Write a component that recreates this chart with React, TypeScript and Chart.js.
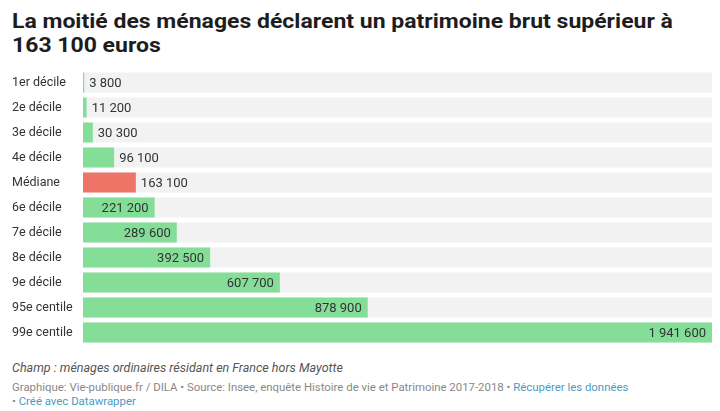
import React, { useEffect, useRef } from "react";
import { Chart, registerables } from "chart.js";

Chart.register(...registerables);

const categories = [
  "1er décile",
  "2e décile",
  "3e décile",
  "4e décile",
  "Médiane",
  "6e décile",
  "7e décile",
  "8e décile",
  "9e décile",
  "95e centile",
  "99e centile",
];
const values = [3800, 11200, 30300, 96100, 163100, 221200, 289600, 392500, 607700, 878900, 1941600];
const highlightIndex = 4;

const GREEN = "#85de98";
const RED = "#ef7468";
const BG = "#f2f2f2";
const FONT = "Roboto, 'Noto Sans', sans-serif";

function fmt(v: number): string {
  return String(v).replace(/\B(?=(\d{3})+(?!\d))/g, " ");
}

const valueLabels = {
  id: "valueLabels",
  afterDatasetsDraw(chart: any) {
    const ctx = chart.ctx;
    const meta = chart.getDatasetMeta(1);
    ctx.save();
    ctx.font = `13px ${FONT}`;
    ctx.textBaseline = "middle";
    meta.data.forEach((bar: any, i: number) => {
      const text = fmt(values[i]);
      const tw = ctx.measureText(text).width;
      const left = chart.chartArea.left;
      const w = bar.x - left;
      ctx.fillStyle = "#333333";
      if (w > tw + 14) {
        ctx.textAlign = "right";
        ctx.fillText(text, bar.x - 6, bar.y + 1);
      } else {
        ctx.textAlign = "left";
        ctx.fillText(text, bar.x + 5, bar.y + 1);
      }
    });
    ctx.restore();
  },
};

export default function App() {
  const ref = useRef<HTMLCanvasElement>(null);
  useEffect(() => {
    if (!ref.current) return;
    const max = Math.max(...values);
    const chart = new Chart(ref.current, {
      type: "bar",
      data: {
        labels: categories,
        datasets: [
          {
            data: categories.map(() => max),
            backgroundColor: BG,
            order: 2,
            grouped: false,
            barPercentage: 0.8,
            categoryPercentage: 1,
          } as any,
          {
            data: values,
            backgroundColor: values.map((_, i) => (i === highlightIndex ? RED : GREEN)),
            order: 1,
            grouped: false,
            barPercentage: 0.8,
            categoryPercentage: 1,
          } as any,
        ],
      },
      options: {
        indexAxis: "y",
        animation: false,
        responsive: false,
        maintainAspectRatio: false,
        layout: { padding: { top: 8, bottom: 8, left: 4, right: 0 } },
        plugins: { legend: { display: false }, tooltip: { enabled: false } },
        scales: {
          x: { display: false, min: 0, max: max },
          y: {
            grid: { display: false, drawTicks: false },
            border: { display: false },
            afterFit: (scale: any) => {
              scale.width = 71;
            },
            ticks: {
              crossAlign: "far",
              padding: 0,
              color: "#333333",
              font: { family: FONT, size: 12.5 },
            },
          },
        },
      },
      plugins: [valueLabels],
    });
    return () => chart.destroy();
  }, []);

  return (
    <div style={{ position: "absolute", left: 0, top: 0, width: 720, height: 411, fontFamily: FONT, background: "#fff" }}>
      <div
        style={{
          position: "absolute",
          left: 12,
          top: 9.5,
          width: 690,
          fontSize: 23,
          lineHeight: "27px",
          fontWeight: 700,
          color: "#1d1d1d",
          transform: "scaleY(0.88)",
          transformOrigin: "top left",
        }}
      >
        La moitié des ménages déclarent un patrimoine brut supérieur à 163 100 euros
      </div>
      <canvas ref={ref} width={704} height={291} style={{ position: "absolute", left: 8, top: 61.5, width: 704, height: 291 }} />
      <div
        style={{
          position: "absolute",
          left: 12,
          top: 361,
          fontSize: 12.5,
          lineHeight: "14px",
          fontStyle: "italic",
          color: "#555555",
        }}
      >
        Champ : ménages ordinaires résidant en France hors Mayotte
      </div>
      <div
        style={{
          position: "absolute",
          left: 12,
          top: 380,
          width: 660,
          fontSize: 11.4,
          lineHeight: "14px",
          color: "#888888",
        }}
      >
        Graphique: Vie-publique.fr / DILA • Source: Insee, enquête Histoire de vie et Patrimoine 2017-2018 •{" "}
        <span style={{ color: "#4a9bc4" }}>Récupérer les données</span>
        <br />• <span style={{ color: "#4a9bc4" }}>Créé avec Datawrapper</span>
      </div>
    </div>
  );
}
